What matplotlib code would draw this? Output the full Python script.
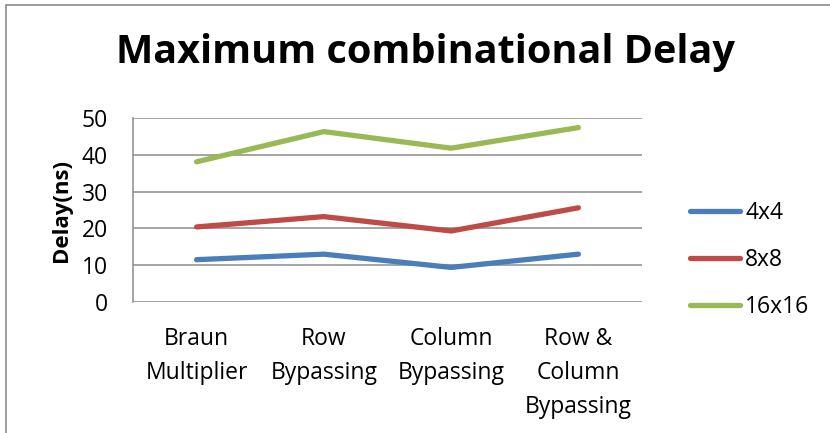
import matplotlib.pyplot as plt
from matplotlib.patches import Rectangle

categories = ["Braun\nMultiplier", "Row\nBypassing", "Column\nBypassing", "Row &\nColumn\nBypassing"]
delay_4x4 = [11.5, 13.0, 9.4, 13.0]
delay_8x8 = [20.4, 23.2, 19.3, 25.6]
delay_16x16 = [38.1, 46.3, 41.8, 47.4]
series_names = ["4x4", "8x8", "16x16"]
colors = ["#4A7EBB", "#BE4B48", "#98B954"]

plt.rcParams['font.family'] = ['Open Sans', 'DejaVu Sans']

fig = plt.figure(figsize=(8.3, 4.33), dpi=100)

# outer chart frame (cut off at right and bottom)
fig.patches.append(Rectangle((6 / 830, -0.1), 1.0, 1.1 - 5 / 433, transform=fig.transFigure,
                             fill=False, edgecolor="#8c8c8c", linewidth=1.2))

ax = fig.add_axes([133 / 830, (433 - 302) / 433, 509 / 830, 184 / 433])
x = [i + 0.5 for i in range(len(categories))]
for vals, name, c in zip([delay_4x4, delay_8x8, delay_16x16], series_names, colors):
    ax.plot(x, vals, color=c, linewidth=3.8, solid_capstyle="round",
            solid_joinstyle="round", label=name)

ax.set_xlim(0, 4)
ax.set_ylim(0, 50)
ax.set_yticks(range(0, 51, 10))
ax.set_xticks(x)
ax.set_xticklabels(categories, fontsize=16.5, linespacing=1.55, va="top")
ax.tick_params(axis="y", labelsize=16.5, length=0, pad=18)
ax.tick_params(axis="x", length=0, pad=18)
ax.grid(axis="y", color="#8c8c8c", linewidth=1.1)
ax.set_axisbelow(True)
for s in ["top", "right", "bottom"]:
    ax.spines[s].set_visible(False)
ax.spines["left"].set_color("#8c8c8c")
ax.spines["left"].set_linewidth(1.1)
ax.set_ylabel("Delay(ns)", fontsize=16, fontweight="bold", labelpad=7)

fig.text(425 / 830, 1 - 63 / 433, "Maximum combinational Delay", ha="center", va="baseline",
         fontsize=28.5, fontweight="bold")

fig.legend(loc="center left", bbox_to_anchor=(690 / 830, 1 - 260 / 433), frameon=False,
           fontsize=16.5, handlelength=2.2, labelspacing=1.0, handletextpad=0.2,
           borderpad=0, borderaxespad=0)

fig.savefig("out.png", dpi=100)
